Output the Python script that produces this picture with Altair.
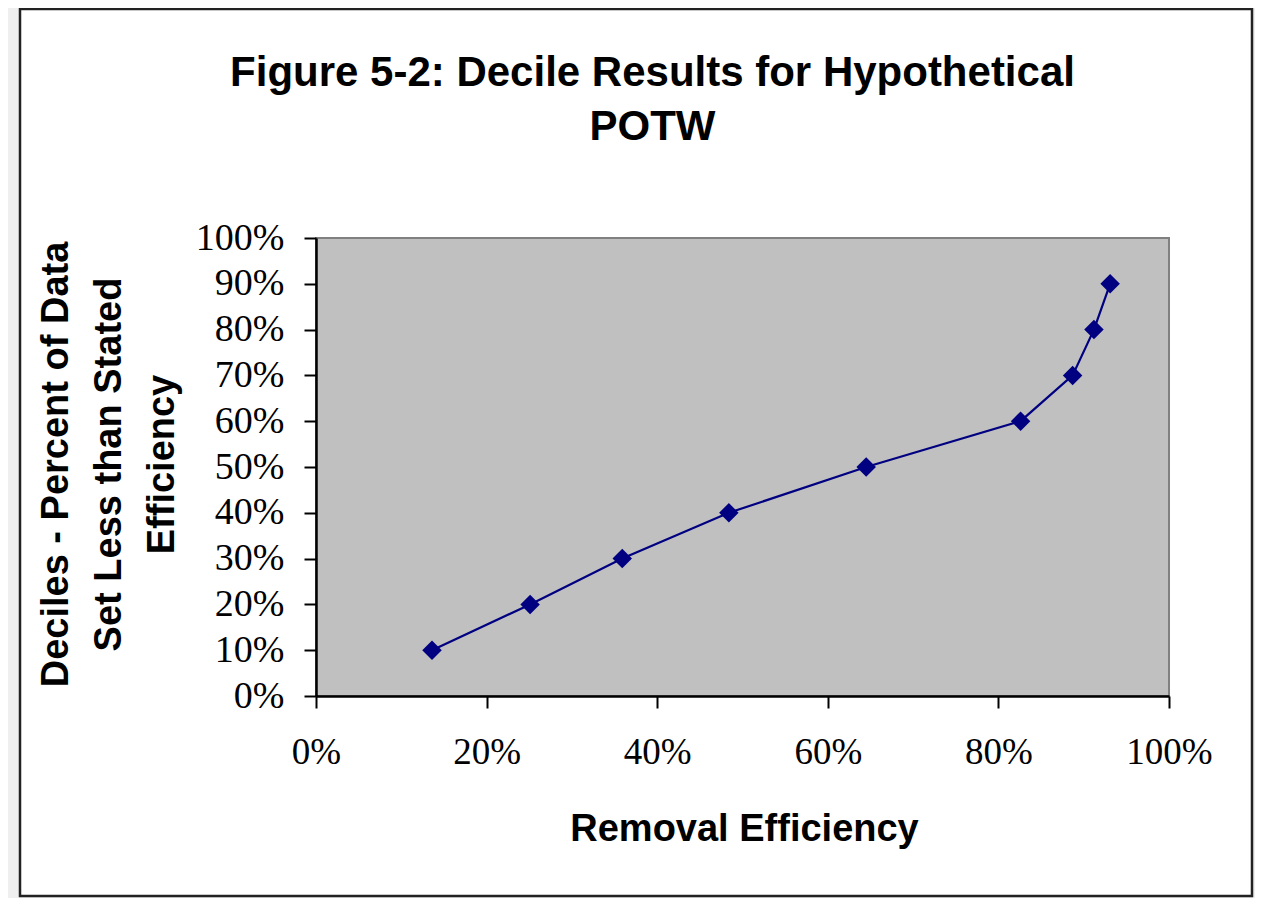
import altair as alt
import pandas as pd

# Data
removal_efficiency = [0.136, 0.251, 0.359, 0.484, 0.645, 0.826, 0.887, 0.912, 0.931]
deciles = [0.1, 0.2, 0.3, 0.4, 0.5, 0.6, 0.7, 0.8, 0.9]
x_ticks = [0, 0.2, 0.4, 0.6, 0.8, 1.0]
y_ticks = [0, 0.1, 0.2, 0.3, 0.4, 0.5, 0.6, 0.7, 0.8, 0.9, 1.0]

title_lines = ["Figure 5-2: Decile Results for Hypothetical", "POTW"]
x_title = "Removal Efficiency"
y_title = ["Deciles - Percent of Data", "Set Less than Stated", "Efficiency"]

df = pd.DataFrame({"eff": removal_efficiency, "dec": deciles})

W, H = 853, 458
NAVY = "#000080"

x_enc = alt.X(
    "eff:Q",
    scale=alt.Scale(domain=[0, 1], nice=False, zero=False),
    axis=alt.Axis(
        values=x_ticks, format=".0%", title=x_title,
        labelFont="Liberation Serif", labelFontSize=37, labelColor="black",
        labelPadding=26, labelFlush=False, tickSize=12, tickWidth=2, tickColor="black",
        domainColor="black", domainWidth=2.5, grid=False,
        titleFont="Liberation Sans", titleFontSize=38, titleFontWeight="bold",
        titleColor="black", titleX=428, titleY=144, titleBaseline="alphabetic",
        titleAlign="center", zindex=1,
    ),
)
y_enc = alt.Y(
    "dec:Q",
    scale=alt.Scale(domain=[0, 1], nice=False, zero=False),
    axis=alt.Axis(
        values=y_ticks, format=".0%", title=y_title,
        labelFont="Liberation Serif", labelFontSize=38, labelColor="black",
        labelPadding=20, labelFlush=False, tickSize=12, tickWidth=2, tickColor="black",
        domainColor="black", domainWidth=2.5, grid=False,
        titleFont="Liberation Sans", titleFontSize=38, titleFontWeight="bold",
        titleColor="black", titleAngle=270, titleX=-249, titleY=226,
        titleBaseline="alphabetic", titleAlign="center", titleLineHeight=53,
        zindex=1,
    ),
)

one = pd.DataFrame({"a": [0]})

frame = alt.Chart(one).mark_rect(
    fill="white", stroke="#222222", strokeWidth=2.5
).encode(
    x=alt.value(-296), x2=alt.value(936), y=alt.value(-229), y2=alt.value(658)
)

plot_bg = alt.Chart(one).mark_rect(
    fill="#c0c0c0", stroke="#808080", strokeWidth=2
).encode(
    x=alt.value(0), x2=alt.value(W), y=alt.value(0), y2=alt.value(H)
)

line = alt.Chart(df).mark_line(color=NAVY, strokeWidth=2.2).encode(x=x_enc, y=y_enc)
points = alt.Chart(df).mark_point(
    shape="diamond", filled=True, color=NAVY, size=380, opacity=1
).encode(x=x_enc, y=y_enc)

chart = alt.layer(frame, plot_bg, line, points).properties(
    width=W,
    height=H,
    background="#efefef",
    padding={"left": 308, "top": 230, "right": 86, "bottom": 202},
    autosize=alt.AutoSizeParams(type="none"),
    title=alt.TitleParams(
        text=title_lines, font="Liberation Sans", fontSize=42,
        fontWeight="bold", color="black", lineHeight=54,
        anchor="middle", frame="group", baseline="alphabetic",
        offset=0, dx=-90, dy=174,
    ),
).configure_view(stroke=None)

chart.save("out.html", embed_options={"renderer": "svg", "actions": False})
